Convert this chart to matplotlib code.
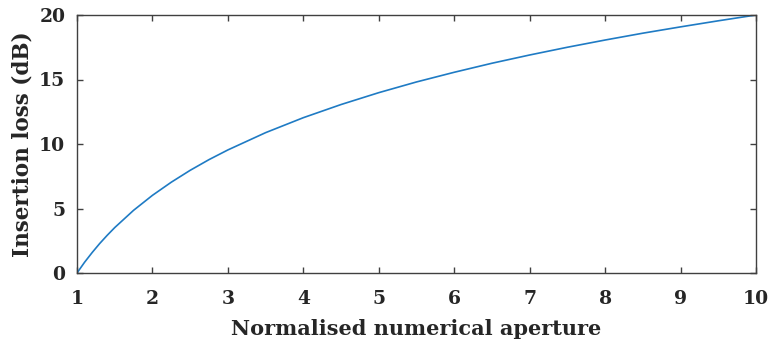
import matplotlib
import matplotlib.pyplot as plt

matplotlib.use("Agg")

# values
na_ratio = [1.0, 1.1, 1.2, 1.3, 1.4, 1.5, 1.75, 2.0, 2.25, 2.5, 2.75, 3.0, 3.5, 4.0,
            4.5, 5.0, 5.5, 6.0, 6.5, 7.0, 7.5, 8.0, 8.5, 9.0, 9.5, 10.0]
loss_db = [0.0, 0.83, 1.58, 2.28, 2.92, 3.52, 4.86, 6.02, 7.04, 7.96, 8.79, 9.54, 10.88, 12.04,
           13.06, 13.98, 14.81, 15.56, 16.26, 16.90, 17.50, 18.06, 18.59, 19.08, 19.55, 20.0]
x_ticks = [1, 2, 3, 4, 5, 6, 7, 8, 9, 10]
y_ticks = [0, 5, 10, 15, 20]

plt.rcParams["font.family"] = ["DejaVu Serif"]
plt.rcParams["font.weight"] = "bold"

fig = plt.figure(figsize=(7.73, 3.47), dpi=100)
ax = fig.add_axes([77 / 773, 1 - 273 / 347, (756 - 77) / 773, (273 - 15) / 347])

ax.plot(na_ratio, loss_db, color="#1f7bc4", linewidth=1.2)
ax.set_xlim(1, 10)
ax.set_ylim(0, 20)
ax.set_xticks(x_ticks)
ax.set_yticks(y_ticks)

axis_color = "#404040"
for side in ax.spines.values():
    side.set_color(axis_color)
    side.set_linewidth(1.0)
ax.tick_params(direction="in", top=True, right=True, length=4, width=1.0,
               color=axis_color, labelsize=13.5, labelcolor="#262626")
ax.tick_params(axis="x", pad=12)
ax.tick_params(axis="y", pad=8.5)
for lbl in ax.get_xticklabels() + ax.get_yticklabels():
    lbl.set_fontweight("bold")

ax.set_xlabel("Normalised numerical aperture", fontsize=15, fontweight="bold",
              color="#262626", labelpad=8)
ax.set_ylabel("Insertion loss (dB)", fontsize=15.5, fontweight="bold",
              color="#262626", labelpad=4)

fig.savefig("out.png", dpi=100)
plt.close(fig)
